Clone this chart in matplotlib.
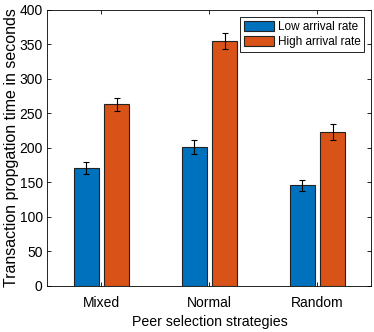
import numpy as np
import matplotlib.pyplot as plt

plt.rcParams['font.family'] = ['Liberation Sans', 'DejaVu Sans']

strategies = ['Mixed', 'Normal', 'Random']
low_rate = [171, 201, 146]
high_rate = [263, 355, 223]
low_err = [9, 10, 8]
high_err = [9, 12, 11]

x = np.arange(1, len(strategies) + 1)
w = 0.23
off = 0.14

fig = plt.figure(figsize=(3.74, 3.32), dpi=100)
ax = fig.add_axes([0.127, 0.139, 0.866, 0.831])

ax.bar(x - off, low_rate, w, color='#0072BD', edgecolor='#222222', linewidth=0.8,
       label='Low arrival rate')
ax.bar(x + off, high_rate, w, color='#D95319', edgecolor='#222222', linewidth=0.8,
       label='High arrival rate')
ax.errorbar(x - off, low_rate, yerr=low_err, fmt='none', ecolor='black',
            elinewidth=0.8, capsize=2.5, capthick=0.8)
ax.errorbar(x + off, high_rate, yerr=high_err, fmt='none', ecolor='black',
            elinewidth=0.8, capsize=2.5, capthick=0.8)

ax.set_xlim(0.5, 3.5)
ax.set_ylim(0, 400)
ax.set_yticks(range(0, 401, 50))
ax.set_xticks(x)
ax.set_xticklabels(strategies)
ax.tick_params(direction='in', top=True, right=True, labelsize=10, length=3, width=0.6)
ax.tick_params(axis='x', pad=7)
for s in ax.spines.values():
    s.set_linewidth(0.6)

ax.set_xlabel('Peer selection strategies', fontsize=10.2, labelpad=4)
ax.set_ylabel('Transaction propgation time in seconds', fontsize=11.5, labelpad=0)

leg = ax.legend(loc='upper right', fontsize=8.5, fancybox=False, edgecolor='black',
                framealpha=1, borderpad=0.3, handlelength=2.6, handleheight=1.0,
                handletextpad=0.3, labelspacing=0.25, borderaxespad=0.6)
leg.get_frame().set_linewidth(0.6)

fig.savefig('out.png', dpi=100)
